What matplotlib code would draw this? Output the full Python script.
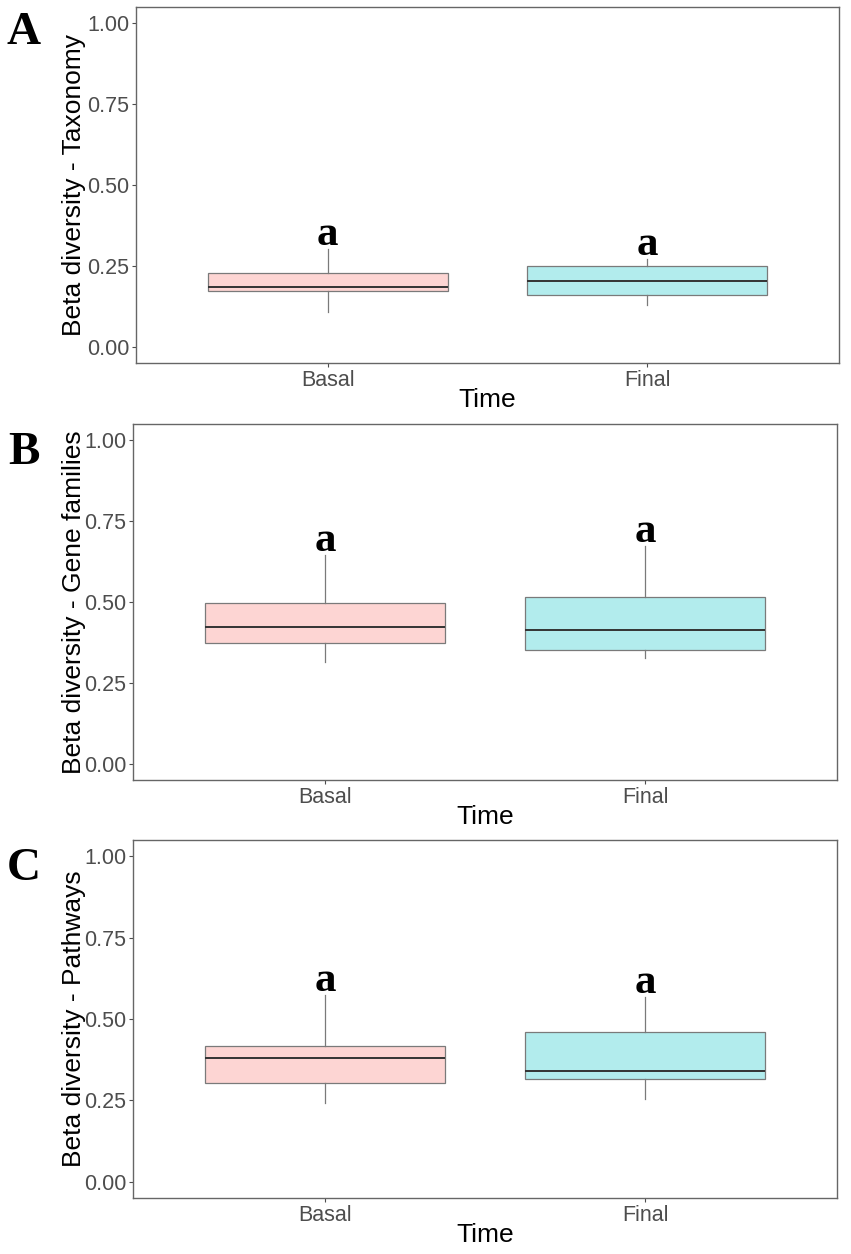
import matplotlib
matplotlib.use("Agg")
import matplotlib.pyplot as plt

#%% data
groups = ["Basal", "Final"]

tax_whislo = [0.108, 0.129]
tax_q1 = [0.172, 0.160]
tax_med = [0.185, 0.203]
tax_q3 = [0.228, 0.249]
tax_whishi = [0.302, 0.271]

gene_whislo = [0.316, 0.328]
gene_q1 = [0.374, 0.353]
gene_med = [0.423, 0.414]
gene_q3 = [0.497, 0.515]
gene_whishi = [0.644, 0.672]

path_whislo = [0.241, 0.253]
path_q1 = [0.302, 0.315]
path_med = [0.380, 0.340]
path_q3 = [0.417, 0.460]
path_whishi = [0.574, 0.568]

sig_letters = ["a", "a"]
yticks = [0.00, 0.25, 0.50, 0.75, 1.00]
ylabels = ["Beta diversity - Taxonomy", "Beta diversity - Gene families", "Beta diversity - Pathways"]
panel_tags = ["A", "B", "C"]

fills = ["#fdd5d3", "#b2eced"]

#%% figure
W, H = 851, 1254
fig = plt.figure(figsize=(W / 100, H / 100), dpi=100)
sans = ["Liberation Sans", "DejaVu Sans"]
serif = ["Liberation Serif", "DejaVu Serif"]

# axes boxes in pixels: left, right, top, bottom
boxes = [(136, 839, 7, 363), (133, 837, 424, 780), (133, 837, 840, 1198)]
tag_pos = [(24, 33), (24, 453), (24, 869)]

panels = [
    (tax_whislo, tax_q1, tax_med, tax_q3, tax_whishi),
    (gene_whislo, gene_q1, gene_med, gene_q3, gene_whishi),
    (path_whislo, path_q1, path_med, path_q3, path_whishi),
]


def make_stats(lo, q1, med, q3, hi):
    stats = []
    for i in range(len(groups)):
        stats.append(dict(whislo=lo[i], q1=q1[i], med=med[i], q3=q3[i],
                          whishi=hi[i], fliers=[], label=groups[i]))
    return stats


for k, (vals, box) in enumerate(zip(panels, boxes)):
    l, r, t, b = box
    ax = fig.add_axes([l / W, 1 - b / H, (r - l) / W, (b - t) / H])
    stats = make_stats(*vals)
    bp = ax.bxp(stats, positions=[1, 2], widths=0.75, patch_artist=True,
                showcaps=False, showfliers=False,
                boxprops=dict(edgecolor="#7a7a7a", linewidth=0.9),
                whiskerprops=dict(color="#7a7a7a", linewidth=0.9),
                medianprops=dict(color="#333333", linewidth=1.4))
    for patch, c in zip(bp["boxes"], fills):
        patch.set_facecolor(c)

    # significance letters above the upper whiskers
    for i, hi in enumerate(vals[4]):
        ax.text(i + 1, hi + 0.043, sig_letters[i], ha="center", va="center",
                fontsize=31, fontweight="bold", family=serif)

    ax.set_xlim(0.4, 2.6)
    ax.set_ylim(-0.05, 1.05)
    ax.set_yticks(yticks)
    ax.set_yticklabels([f"{v:.2f}" for v in yticks])
    ax.set_xticks([1, 2])
    ax.set_xticklabels(groups)
    ax.tick_params(axis="both", length=3, width=0.8, color="#4d4d4d",
                   labelcolor="#4d4d4d", labelsize=15.5, pad=2)
    for lab in ax.get_xticklabels() + ax.get_yticklabels():
        lab.set_family(sans)
    for sp in ax.spines.values():
        sp.set_color("#666666")
        sp.set_linewidth(1.0)

    ax.set_ylabel(ylabels[k], fontsize=19, family=sans, color="black")
    ax.yaxis.set_label_coords((86 - l) / (r - l), 0.5)
    ax.set_xlabel("Time", fontsize=19, family=sans, color="black")
    ax.xaxis.set_label_coords(0.5, -0.07)

    fig.text(tag_pos[k][0] / W, 1 - tag_pos[k][1] / H, panel_tags[k],
             ha="center", va="center", fontsize=34, fontweight="bold", family=serif)

fig.savefig("out.png", dpi=100, facecolor="white")
